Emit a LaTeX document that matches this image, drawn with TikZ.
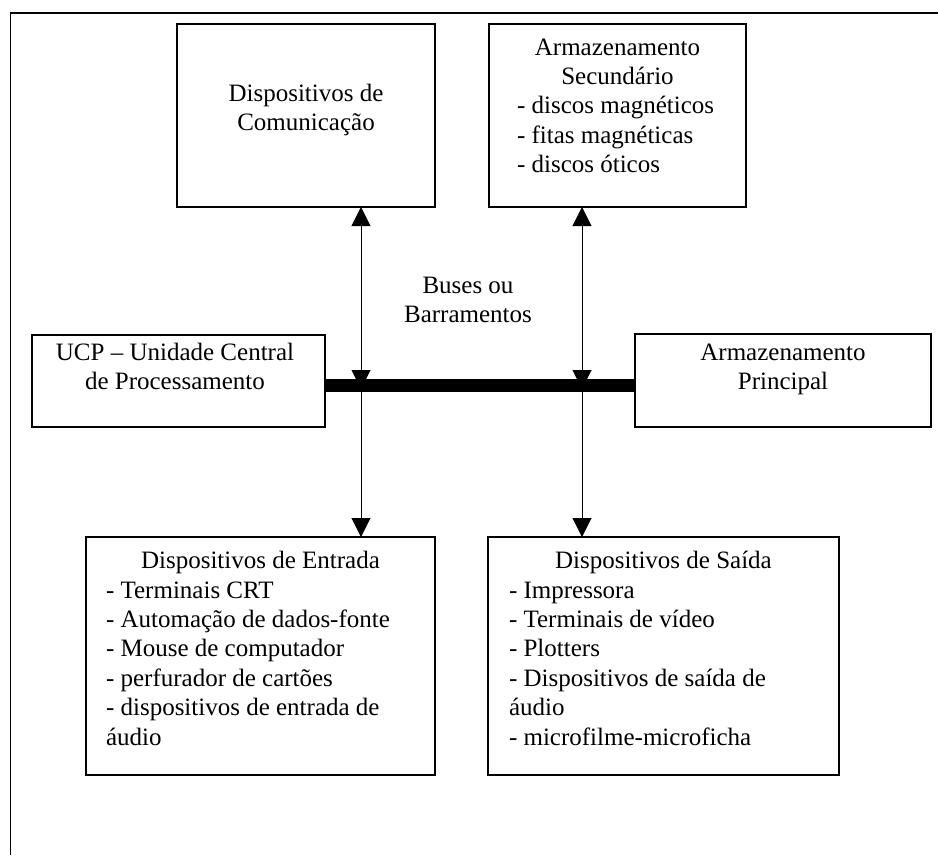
\documentclass[tikz,border=0pt]{standalone}
\usepackage{fontspec}
\setmainfont{Liberation Serif}
\usetikzlibrary{arrows.meta}

% first row's baseline is the node's baseline
\newcommand{\txtlines}[2]{\begin{tabular}[t]{@{}#1@{}}#2\end{tabular}}

\begin{document}
\begin{tikzpicture}[x=1pt,y=-1pt,
  every node/.style={inner sep=0pt,outer sep=0pt,font=\fontsize{25}{29.4}\selectfont},
  unitbox/.style={draw,line width=1.3pt,rectangle,anchor=north west},
  iobox/.style={draw,line width=1.8pt,rectangle,anchor=north west},
  ctext/.style={anchor=base},
  ltext/.style={anchor=base west},
  link/.style={line width=1pt,{Triangle[length=19pt,width=19pt]}-{Triangle[length=19pt,width=19pt]}},
  linkdown/.style={line width=1pt,-{Triangle[length=19pt,width=19pt]}},
  bus/.style={line width=13pt}]
\useasboundingbox (0,0) rectangle (938,855);

% page frame (top and left edges)
\draw[line width=1.7pt] (10.5,855) -- (10.5,13) -- (938,13);

% units
\node[unitbox,minimum width=258pt,minimum height=183pt] (comm) at (177,24) {};
\node[unitbox,minimum width=257pt,minimum height=183pt] (sec) at (489,24) {};
\node[unitbox,minimum width=293pt,minimum height=92pt] (ucp) at (32,335) {};
\node[unitbox,minimum width=296pt,minimum height=93pt] (prin) at (635,334) {};
\node[iobox,minimum width=349pt,minimum height=238pt] (ent) at (86,537) {};
\node[iobox,minimum width=351pt,minimum height=238pt] (sai) at (488,537) {};

% texts
\node[ctext] (commT) at (306,101) {\txtlines{c}{Dispositivos de\\Comunicação}};
\node[ctext] (secT) at (617.5,55) {\txtlines{c}{Armazenamento\\Secundário}};
\node[ltext] (secL) at (517,113.8) {\txtlines{l}{- discos magnéticos\\- fitas magnéticas\\- discos óticos}};
\node[ctext] (busT) at (468,293) {\txtlines{c}{Buses ou\\Barramentos}};
\node[ctext] (ucpT) at (175,360) {\txtlines{c}{UCP – Unidade Central\\de Processamento}};
\node[ctext] (prinT) at (783,360) {\txtlines{c}{Armazenamento\\Principal}};
\node[ctext] (entT) at (260.5,568.5) {Dispositivos de Entrada};
\node[ltext] (entL) at (106,598) {\txtlines{l}{- Terminais CRT\\- Automação de dados-fonte\\- Mouse de computador\\- perfurador de cartões\\- dispositivos de entrada de\\áudio}};
\node[ctext] (saiT) at (663.5,568.5) {Dispositivos de Saída};
\node[ltext] (saiL) at (509,598) {\txtlines{l}{- Impressora\\- Terminais de vídeo\\- Plotters\\- Dispositivos de saída de\\áudio\\- microfilme-microficha}};

% bus taps and ends
\coordinate (tapA) at (361,389);
\coordinate (tapB) at (582,389);
\coordinate (busL) at (326,385.5);
\coordinate (busR) at (635,385.5);

% connectors
\draw[link] (comm.south -| tapA) -- (tapA);
\draw[link] (sec.south -| tapB) -- (tapB);
\draw[linkdown] (tapA) -- (ent.north -| tapA);
\draw[linkdown] (tapB) -- (sai.north -| tapB);
\draw[bus] (busL) -- (busR);
\end{tikzpicture}
\end{document}
